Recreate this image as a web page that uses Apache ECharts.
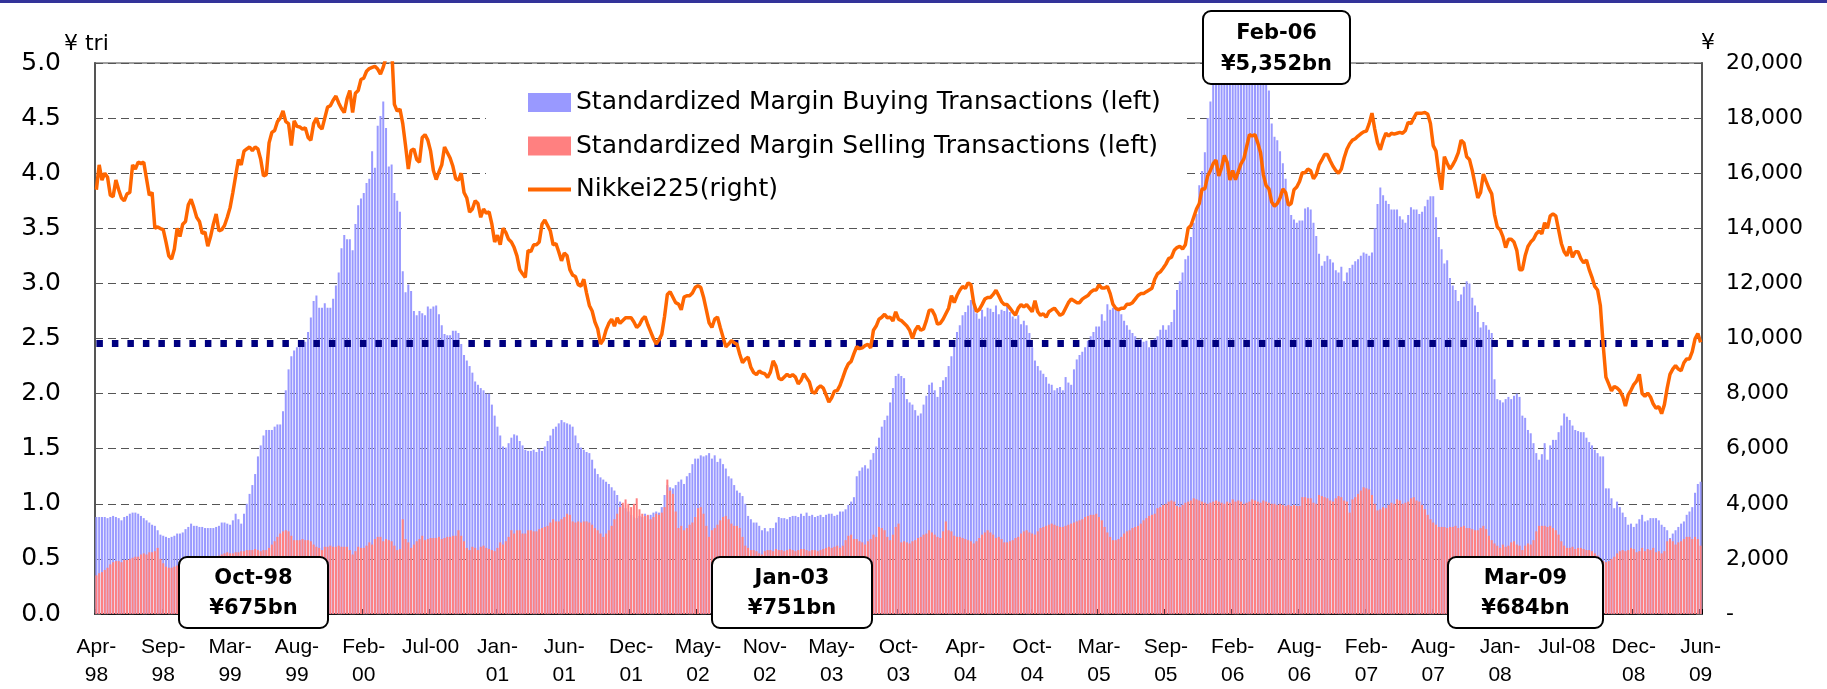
<!DOCTYPE html>
<html lang="en">

<head>
    <meta charset="UTF-8">
    <title>Margin Transactions and Nikkei225</title>
    <script src="https://cdn.jsdelivr.net/npm/echarts@6/dist/echarts.min.js"></script>
    <style>
        html, body { margin: 0; padding: 0; background: #fff; }
    </style>
</head>

<body>
    <div id="main" style="width: 1827px; height: 689px;"></div>
    <script>
        // weekly data, Apr-98 .. Jun-09 (one row = 24 weeks = one tick interval)
        var tickLabels = ['Apr-\n98', 'Sep-\n98', 'Mar-\n99', 'Aug-\n99', 'Feb-\n00', 'Jul-00', 'Jan-\n01', 'Jun-\n01',
            'Dec-\n01', 'May-\n02', 'Nov-\n02', 'May-\n03', 'Oct-\n03', 'Apr-\n04', 'Oct-\n04', 'Mar-\n05', 'Sep-\n05',
            'Feb-\n06', 'Aug-\n06', 'Feb-\n07', 'Aug-\n07', 'Jan-\n08', 'Jul-08', 'Dec-\n08', 'Jun-\n09'];
        var weeksPerTick = 24;

        // standardized margin buying, ¥ tri
        var buying = [
            0.88, 0.88, 0.88, 0.88, 0.87, 0.88, 0.89, 0.88, 0.87, 0.85, 0.88, 0.89, 0.91, 0.92, 0.92, 0.91, 0.89, 0.87, 0.85, 0.83, 0.81, 0.80, 0.76, 0.72,
            0.71, 0.70, 0.69, 0.70, 0.71, 0.73, 0.73, 0.74, 0.77, 0.79, 0.82, 0.80, 0.80, 0.79, 0.79, 0.78, 0.78, 0.78, 0.78, 0.79, 0.80, 0.83, 0.83, 0.82,
            0.81, 0.85, 0.91, 0.86, 0.82, 0.91, 1.00, 1.09, 1.17, 1.27, 1.43, 1.53, 1.62, 1.67, 1.67, 1.67, 1.70, 1.72, 1.72, 1.84, 2.03, 2.22, 2.34, 2.39,
            2.42, 2.44, 2.45, 2.47, 2.56, 2.69, 2.84, 2.89, 2.78, 2.78, 2.82, 2.78, 2.78, 2.86, 2.98, 3.10, 3.32, 3.44, 3.40, 3.40, 3.30, 3.54, 3.71, 3.77,
            3.82, 3.91, 3.95, 4.20, 4.05, 4.43, 4.52, 4.65, 4.41, 4.06, 4.08, 3.82, 3.75, 3.65, 3.11, 2.92, 2.99, 2.93, 2.75, 2.71, 2.75, 2.73, 2.71, 2.79,
            2.77, 2.79, 2.80, 2.72, 2.62, 2.54, 2.53, 2.53, 2.57, 2.57, 2.55, 2.45, 2.35, 2.30, 2.25, 2.19, 2.11, 2.08, 2.05, 2.03, 2.00, 2.00, 1.90, 1.80,
            1.70, 1.62, 1.52, 1.51, 1.55, 1.60, 1.63, 1.62, 1.57, 1.53, 1.49, 1.48, 1.48, 1.49, 1.47, 1.50, 1.48, 1.52, 1.57, 1.62, 1.68, 1.70, 1.73, 1.76,
            1.74, 1.73, 1.72, 1.70, 1.62, 1.55, 1.51, 1.49, 1.47, 1.46, 1.40, 1.32, 1.27, 1.24, 1.22, 1.20, 1.18, 1.15, 1.12, 1.08, 1.02, 0.99, 0.96, 0.93,
            0.90, 0.88, 0.87, 0.89, 0.88, 0.91, 0.89, 0.90, 0.92, 0.93, 0.92, 0.97, 1.08, 1.17, 1.15, 1.14, 1.17, 1.20, 1.22, 1.18, 1.25, 1.28, 1.36, 1.41,
            1.41, 1.44, 1.43, 1.44, 1.46, 1.41, 1.44, 1.38, 1.41, 1.36, 1.32, 1.25, 1.23, 1.17, 1.12, 1.10, 1.07, 1.00, 0.89, 0.86, 0.83, 0.83, 0.80, 0.76,
            0.78, 0.75, 0.78, 0.78, 0.83, 0.88, 0.87, 0.87, 0.86, 0.88, 0.89, 0.89, 0.88, 0.91, 0.89, 0.92, 0.89, 0.90, 0.88, 0.89, 0.90, 0.88, 0.90, 0.91,
            0.91, 0.89, 0.90, 0.93, 0.93, 0.95, 0.99, 1.02, 1.06, 1.25, 1.30, 1.33, 1.35, 1.32, 1.40, 1.46, 1.52, 1.60, 1.70, 1.76, 1.80, 1.92, 2.05, 2.16,
            2.18, 2.16, 2.14, 1.95, 1.92, 1.90, 1.85, 1.80, 1.82, 1.90, 1.98, 2.08, 2.10, 2.03, 1.97, 2.06, 2.12, 2.15, 2.25, 2.34, 2.45, 2.56, 2.62, 2.71,
            2.74, 2.80, 2.85, 2.82, 2.73, 2.68, 2.76, 2.70, 2.78, 2.77, 2.74, 2.80, 2.72, 2.76, 2.75, 2.80, 2.74, 2.70, 2.68, 2.71, 2.63, 2.66, 2.62, 2.55,
            2.42, 2.30, 2.25, 2.21, 2.18, 2.15, 2.09, 2.08, 2.03, 2.05, 2.06, 2.03, 2.15, 2.10, 2.08, 2.22, 2.31, 2.35, 2.38, 2.42, 2.48, 2.52, 2.56, 2.61,
            2.61, 2.72, 2.66, 2.81, 2.76, 2.78, 2.77, 2.75, 2.72, 2.66, 2.62, 2.58, 2.55, 2.52, 2.49, 2.50, 2.47, 2.48, 2.42, 2.47, 2.50, 2.52, 2.58, 2.62,
            2.58, 2.62, 2.65, 2.76, 2.94, 3.02, 3.10, 3.22, 3.25, 3.42, 3.55, 3.63, 3.89, 4.02, 4.19, 4.50, 4.65, 4.85, 5.05, 5.12, 5.08, 5.20, 5.28, 5.35,
            5.30, 5.25, 5.18, 5.10, 5.15, 5.05, 5.12, 5.02, 4.95, 5.05, 5.00, 4.92, 4.85, 4.75, 4.45, 4.33, 4.30, 4.20, 4.09, 3.95, 3.72, 3.62, 3.58, 3.55,
            3.57, 3.57, 3.68, 3.69, 3.67, 3.55, 3.43, 3.27, 3.16, 3.20, 3.25, 3.22, 3.19, 3.12, 3.10, 3.15, 3.02, 3.10, 3.14, 3.17, 3.20, 3.22, 3.25, 3.28,
            3.27, 3.25, 3.28, 3.50, 3.72, 3.87, 3.80, 3.75, 3.72, 3.67, 3.67, 3.67, 3.61, 3.58, 3.55, 3.62, 3.69, 3.67, 3.67, 3.63, 3.65, 3.70, 3.76, 3.79,
            3.79, 3.60, 3.42, 3.31, 3.18, 3.21, 3.05, 2.98, 2.94, 2.84, 2.90, 2.97, 3.02, 3.00, 2.87, 2.80, 2.74, 2.60, 2.65, 2.62, 2.58, 2.55, 2.13, 1.95,
            1.94, 1.92, 1.95, 1.97, 1.95, 1.98, 2.00, 1.97, 1.80, 1.78, 1.67, 1.64, 1.55, 1.46, 1.40, 1.45, 1.55, 1.40, 1.53, 1.58, 1.58, 1.65, 1.71, 1.82,
            1.79, 1.76, 1.71, 1.67, 1.66, 1.65, 1.65, 1.60, 1.56, 1.53, 1.49, 1.46, 1.43, 1.43, 1.14, 1.14, 1.05, 0.96, 1.02, 0.97, 0.92, 0.88, 0.81, 0.82,
            0.79, 0.82, 0.86, 0.90, 0.84, 0.85, 0.87, 0.87, 0.87, 0.85, 0.81, 0.79, 0.76, 0.69, 0.73, 0.76, 0.79, 0.82, 0.84, 0.90, 0.93, 0.97, 1.10, 1.18,
            1.20
        ];

        // standardized margin selling, ¥ tri
        var selling = [
            0.35, 0.37, 0.38, 0.40, 0.42, 0.45, 0.47, 0.48, 0.48, 0.47, 0.49, 0.49, 0.50, 0.51, 0.52, 0.52, 0.54, 0.55, 0.54, 0.56, 0.56, 0.57, 0.60, 0.50,
            0.46, 0.43, 0.42, 0.42, 0.43, 0.44, 0.45, 0.46, 0.46, 0.47, 0.48, 0.48, 0.47, 0.48, 0.49, 0.50, 0.50, 0.51, 0.52, 0.52, 0.53, 0.54, 0.55, 0.56,
            0.55, 0.55, 0.56, 0.56, 0.57, 0.57, 0.58, 0.58, 0.58, 0.59, 0.58, 0.57, 0.58, 0.58, 0.60, 0.63, 0.66, 0.70, 0.73, 0.75, 0.76, 0.75, 0.71, 0.67,
            0.67, 0.67, 0.68, 0.67, 0.67, 0.66, 0.63, 0.61, 0.60, 0.58, 0.61, 0.61, 0.62, 0.61, 0.61, 0.62, 0.61, 0.61, 0.61, 0.58, 0.54, 0.57, 0.61, 0.60,
            0.60, 0.62, 0.65, 0.63, 0.68, 0.70, 0.70, 0.66, 0.68, 0.67, 0.66, 0.62, 0.58, 0.59, 0.86, 0.68, 0.65, 0.60, 0.63, 0.66, 0.68, 0.71, 0.67, 0.68,
            0.69, 0.69, 0.69, 0.70, 0.68, 0.69, 0.70, 0.70, 0.71, 0.71, 0.76, 0.71, 0.66, 0.60, 0.58, 0.61, 0.60, 0.58, 0.61, 0.62, 0.60, 0.59, 0.58, 0.57,
            0.60, 0.65, 0.63, 0.66, 0.70, 0.76, 0.73, 0.76, 0.76, 0.73, 0.73, 0.76, 0.76, 0.75, 0.75, 0.77, 0.78, 0.79, 0.80, 0.83, 0.86, 0.84, 0.84, 0.86,
            0.88, 0.91, 0.90, 0.84, 0.83, 0.84, 0.83, 0.84, 0.84, 0.83, 0.81, 0.78, 0.76, 0.73, 0.70, 0.73, 0.76, 0.80, 0.86, 0.91, 0.97, 1.01, 1.04, 1.00,
            0.97, 1.00, 1.05, 0.95, 0.91, 0.89, 0.90, 0.86, 0.88, 0.91, 0.90, 0.92, 0.97, 1.22, 1.12, 1.09, 0.93, 0.78, 0.80, 0.76, 0.78, 0.81, 0.83, 0.88,
            0.96, 0.97, 0.91, 0.80, 0.70, 0.76, 0.78, 0.81, 0.85, 0.88, 0.89, 0.86, 0.82, 0.80, 0.80, 0.78, 0.70, 0.62, 0.60, 0.58, 0.58, 0.57, 0.55, 0.54,
            0.57, 0.58, 0.58, 0.57, 0.59, 0.58, 0.58, 0.57, 0.58, 0.59, 0.58, 0.57, 0.58, 0.59, 0.59, 0.58, 0.57, 0.58, 0.58, 0.57, 0.58, 0.59, 0.60, 0.61,
            0.60, 0.61, 0.62, 0.60, 0.62, 0.67, 0.71, 0.72, 0.68, 0.68, 0.66, 0.65, 0.63, 0.66, 0.68, 0.72, 0.70, 0.79, 0.78, 0.76, 0.70, 0.67, 0.72, 0.79,
            0.82, 0.65, 0.66, 0.65, 0.64, 0.66, 0.67, 0.69, 0.70, 0.72, 0.73, 0.76, 0.74, 0.72, 0.70, 0.69, 0.75, 0.84, 0.76, 0.75, 0.71, 0.70, 0.70, 0.69,
            0.68, 0.67, 0.66, 0.64, 0.66, 0.69, 0.72, 0.74, 0.76, 0.74, 0.72, 0.69, 0.70, 0.68, 0.65, 0.65, 0.66, 0.67, 0.69, 0.70, 0.73, 0.75, 0.76, 0.74,
            0.73, 0.72, 0.75, 0.78, 0.79, 0.80, 0.81, 0.82, 0.81, 0.80, 0.79, 0.79, 0.80, 0.81, 0.82, 0.83, 0.84, 0.85, 0.86, 0.88, 0.89, 0.90, 0.90, 0.91,
            0.88, 0.85, 0.79, 0.74, 0.70, 0.67, 0.67, 0.68, 0.70, 0.73, 0.75, 0.76, 0.78, 0.79, 0.80, 0.82, 0.85, 0.87, 0.89, 0.90, 0.91, 0.96, 0.97, 0.99,
            1.00, 1.02, 1.03, 1.02, 0.98, 0.97, 0.99, 1.01, 1.02, 1.03, 1.05, 1.04, 1.03, 1.02, 1.01, 1.00, 1.01, 1.02, 1.03, 1.02, 1.01, 1.00, 1.02, 1.01,
            1.04, 1.02, 1.03, 1.02, 1.00, 1.01, 1.02, 1.04, 1.03, 1.02, 1.01, 1.03, 1.02, 1.01, 1.00, 1.00, 0.99, 1.00, 0.99, 0.98, 0.99, 0.98, 0.99, 0.98,
            0.98, 1.06, 1.06, 1.05, 1.05, 1.01, 1.00, 1.08, 1.07, 1.06, 1.05, 1.03, 1.02, 1.05, 1.07, 1.06, 1.03, 1.02, 0.92, 1.04, 1.06, 1.09, 1.12, 1.15,
            1.14, 1.13, 1.08, 1.00, 0.94, 0.95, 0.97, 0.96, 0.99, 1.01, 1.00, 1.04, 1.03, 1.00, 1.01, 1.02, 1.05, 1.06, 1.03, 1.02, 0.99, 0.95, 0.90, 0.86,
            0.83, 0.81, 0.79, 0.79, 0.79, 0.78, 0.79, 0.79, 0.80, 0.78, 0.79, 0.80, 0.78, 0.78, 0.77, 0.76, 0.76, 0.78, 0.80, 0.77, 0.71, 0.67, 0.64, 0.62,
            0.60, 0.63, 0.61, 0.62, 0.65, 0.66, 0.63, 0.62, 0.58, 0.62, 0.64, 0.63, 0.67, 0.75, 0.80, 0.80, 0.80, 0.79, 0.80, 0.78, 0.76, 0.72, 0.66, 0.62,
            0.60, 0.60, 0.61, 0.59, 0.60, 0.60, 0.59, 0.58, 0.58, 0.57, 0.55, 0.53, 0.49, 0.48, 0.47, 0.48, 0.50, 0.52, 0.55, 0.57, 0.58, 0.57, 0.58, 0.60,
            0.59, 0.56, 0.57, 0.60, 0.57, 0.59, 0.58, 0.60, 0.56, 0.57, 0.55, 0.57, 0.66, 0.68, 0.66, 0.63, 0.65, 0.66, 0.68, 0.70, 0.70, 0.68, 0.70, 0.68,
            0.62
        ];

        // Nikkei225, yen
        var nikkei = [
            15400, 16300, 15750, 16000, 15850, 15200, 15150, 15750, 15400, 15100, 15000, 15250, 15300, 16300, 16150, 16400, 16350, 16400, 15800, 15200, 15300, 14000, 14050, 13990,
            13950, 13500, 13000, 12880, 13250, 14000, 13700, 14150, 14250, 14850, 15050, 14750, 14400, 14250, 13820, 13860, 13350, 13700, 14150, 14520, 13900, 13950, 14100, 14400,
            14750, 15300, 15900, 16500, 16300, 16800, 16880, 16950, 16820, 16950, 16880, 16500, 15900, 15950, 17100, 17480, 17550, 17870, 18000, 18260, 17870, 17800, 17000, 17900,
            17700, 17680, 17600, 17650, 17300, 17200, 17800, 18000, 17700, 17600, 18000, 18400, 18450, 18650, 18800, 18550, 18350, 18200, 18700, 19000, 18200, 18900, 19000, 19400,
            19450, 19700, 19800, 19840, 19880, 19780, 19600, 19850, 20200, 20400, 20600, 18500, 18250, 18330, 17800, 17000, 16150, 16820, 16880, 16500, 16400, 17300, 17400, 17200,
            16800, 16100, 15770, 16050, 16300, 16950, 16750, 16550, 16250, 15800, 15750, 16000, 15300, 15100, 14590, 14700, 15000, 14900, 14400, 14700, 14550, 14600, 14150, 13500,
            13750, 13400, 14000, 13850, 13600, 13500, 13300, 13000, 12500, 12350, 12220, 13200, 13150, 13400, 13400, 13500, 14150, 14300, 14100, 13900, 13400, 13450, 13150, 12820,
            13100, 13000, 12500, 12300, 12250, 11950, 11900, 12150, 11650, 11200, 11000, 10600, 10350, 9800, 9950, 10310, 10550, 10700, 10450, 10750, 10550, 10650, 10750, 10750,
            10750, 10600, 10400, 10500, 10700, 10800, 10500, 10250, 10000, 9800, 9950, 10150, 10800, 11600, 11700, 11500, 11300, 11250, 11040, 11500, 11550, 11550, 11650, 11850,
            11920, 11850, 11500, 11040, 10570, 10400, 10700, 10780, 10400, 10050, 9700, 9800, 9920, 9850, 9790, 9430, 9120, 9250, 9320, 8950, 8760, 8690, 8820, 8750,
            8720, 8590, 8780, 9190, 8990, 8560, 8500, 8600, 8700, 8620, 8690, 8600, 8350, 8480, 8720, 8570, 8420, 8060, 8020, 8200, 8280, 8200, 7950, 7690,
            7850, 8090, 8110, 8300, 8580, 8870, 9080, 9170, 9450, 9700, 9630, 9660, 9740, 9790, 9660, 10300, 10450, 10700, 10770, 10880, 10750, 10770, 10640, 10970,
            10700, 10650, 10550, 10450, 10300, 10000, 10300, 10450, 10300, 10350, 10650, 11020, 11040, 10850, 10520, 10550, 10700, 10900, 11100, 11560, 11300, 11560, 11750, 11890,
            11820, 12020, 11950, 11300, 10980, 11050, 11230, 11430, 11490, 11490, 11600, 11750, 11550, 11340, 11230, 11230, 11100, 10970, 10850, 11100, 11230, 11150, 11230, 11100,
            10970, 11370, 10970, 10840, 10900, 10770, 10970, 11040, 11100, 10970, 10840, 10900, 11100, 11300, 11430, 11370, 11300, 11300, 11430, 11500, 11560, 11680, 11760, 11760,
            11950, 11830, 11830, 11890, 11630, 11240, 11100, 11040, 11100, 11100, 11240, 11240, 11300, 11430, 11560, 11630, 11630, 11700, 11760, 11820, 12150, 12350, 12420, 12550,
            12700, 12900, 12950, 13200, 13300, 13350, 13250, 13400, 14000, 14100, 14400, 14700, 14900, 15430, 15430, 15900, 16100, 16350, 16480, 15900, 16200, 16650, 16400, 15750,
            16100, 15760, 16060, 16350, 16520, 16960, 17400, 17350, 17400, 17100, 16740, 15950, 15550, 15430, 14950, 14800, 14900, 15100, 15430, 15300, 14840, 14900, 15400, 15500,
            15700, 16020, 16020, 16150, 16090, 15800, 15950, 16300, 16480, 16680, 16680, 16450, 16250, 16100, 16000, 16150, 16550, 16870, 17070, 17200, 17250, 17350, 17430, 17500,
            17530, 17800, 18180, 17600, 17100, 16850, 17200, 17450, 17350, 17450, 17420, 17450, 17480, 17450, 17550, 17850, 17800, 18000, 18180, 18180, 18180, 18200, 18150, 17800,
            17000, 16800, 16000, 15400, 16600, 16360, 16150, 16300, 16490, 16750, 17200, 17100, 16600, 16500, 16100, 15600, 15100, 15300, 15970, 15700, 15450, 15250, 14500, 14050,
            13950, 13700, 13300, 13600, 13600, 13500, 13200, 12500, 12500, 13000, 13340, 13500, 13600, 13800, 13900, 13800, 14200, 14000, 14450, 14520, 14450, 13950, 13450, 13150,
            13000, 13340, 12950, 13150, 13150, 12900, 12750, 12850, 12500, 12220, 11890, 11760, 11200, 9790, 8600, 8350, 8100, 8260, 8200, 8100, 7900, 7550, 7950, 8120,
            8330, 8450, 8700, 8000, 7900, 8020, 7880, 7620, 7470, 7530, 7270, 7600, 8200, 8700, 8890, 9020, 8890, 8830, 9120, 9260, 9260, 9520, 9990, 10180,
            9860
        ];

        // long-run average of margin buying (dotted navy line), ends at this week index
        var avgBuying = 2.46;
        var avgEndWeek = 571;

        var callouts = [
            { title: 'Oct-98', text: '¥675bn', left: 178, top: 556, width: 149, height: 71 },
            { title: 'Jan-03', text: '¥751bn', left: 711, top: 556, width: 160, height: 71 },
            { title: 'Feb-06', text: '¥5,352bn', left: 1202, top: 10, width: 147, height: 73 },
            { title: 'Mar-09', text: '¥684bn', left: 1447, top: 556, width: 155, height: 71 }
        ];

        var weeks = buying.map(function (v, i) { return String(i); });

        var myChart = echarts.init(document.getElementById('main'));

        var graphics = [
            { type: 'rect', left: 0, top: 0, shape: { width: 1827, height: 3 }, style: { fill: '#333399' }, z: 100 },
            { type: 'text', left: 64, top: 33, style: { text: '¥ tri', font: '22px "DejaVu Sans"', fill: '#000' }, z: 100 },
            { type: 'text', left: 1701, top: 32, style: { text: '¥', font: '22px "DejaVu Sans"', fill: '#000' }, z: 100 }
        ];
        callouts.forEach(function (c) {
            graphics.push({
                type: 'group', left: c.left, top: c.top, z: 100,
                children: [
                    { type: 'rect', shape: { x: 0, y: 0, width: c.width, height: c.height, r: 8 }, style: { fill: '#fff', stroke: '#000', lineWidth: 2 }, z: 100 },
                    { type: 'text', style: { text: c.title, x: c.width / 2, y: c.height * 0.31, align: 'center', verticalAlign: 'middle', font: 'bold 21px "DejaVu Sans"', fill: '#000' }, z: 101 },
                    { type: 'text', style: { text: c.text, x: c.width / 2, y: c.height * 0.73, align: 'center', verticalAlign: 'middle', font: 'bold 21px "DejaVu Sans"', fill: '#000' }, z: 101 }
                ]
            });
        });

        var option = {
            animation: false,
            backgroundColor: '#fff',
            grid: { left: 95, right: 125, top: 63, bottom: 72, show: true, borderColor: '#808080', borderWidth: 1.5, backgroundColor: 'transparent' },
            legend: {
                orient: 'vertical',
                left: 486,
                top: 78,
                padding: [12, 25, 16, 40],
                backgroundColor: '#fff',
                itemWidth: 43,
                itemHeight: 19,
                itemGap: 18.5,
                textStyle: { fontFamily: 'DejaVu Sans', fontSize: 25, color: '#000' },
                data: [
                    { name: 'Standardized Margin Buying Transactions (left)', icon: 'rect' },
                    { name: 'Standardized Margin Selling Transactions (left)', icon: 'rect' },
                    { name: 'Nikkei225(right)', itemStyle: { opacity: 0 }, lineStyle: { width: 4, color: '#FF6600' } }
                ]
            },
            xAxis: {
                type: 'category',
                data: weeks,
                boundaryGap: true,
                axisLine: { lineStyle: { color: '#000', width: 1.5 } },
                axisTick: {
                    show: true, inside: true, length: 5,
                    interval: function (index) { return index % weeksPerTick === 0; },
                    lineStyle: { color: '#000' }
                },
                axisLabel: {
                    interval: function (index) { return index % weeksPerTick === 0; },
                    formatter: function (value) { return tickLabels[Number(value) / weeksPerTick]; },
                    margin: 19,
                    fontFamily: 'Liberation Sans',
                    fontSize: 21,
                    lineHeight: 28,
                    color: '#000'
                },
                splitLine: { show: false }
            },
            yAxis: [
                {
                    type: 'value', min: 0, max: 5, interval: 0.5, position: 'left',
                    axisLine: { show: true, lineStyle: { color: '#555', width: 2 } },
                    axisTick: { show: true, inside: true, length: 6, lineStyle: { color: '#555' } },
                    axisLabel: {
                        formatter: function (v) { return v.toFixed(1); },
                        margin: 34, fontFamily: 'DejaVu Sans', fontSize: 25, color: '#000'
                    },
                    splitLine: { show: true, lineStyle: { color: '#555', width: 1, type: [8, 5] } }
                },
                {
                    type: 'value', min: 0, max: 20000, interval: 2000, position: 'right',
                    axisLine: { show: true, lineStyle: { color: '#555', width: 2 } },
                    axisTick: { show: true, inside: true, length: 6, lineStyle: { color: '#555' } },
                    axisLabel: {
                        formatter: function (v) { return v === 0 ? '-' : v.toLocaleString('en-US'); },
                        margin: 24, fontFamily: 'DejaVu Sans', fontSize: 22, color: '#000'
                    },
                    splitLine: { show: false }
                }
            ],
            series: [
                {
                    name: 'Standardized Margin Buying Transactions (left)',
                    type: 'bar',
                    data: buying,
                    barWidth: '72%',
                    barGap: '-100%',
                    itemStyle: { color: '#9999FF' },
                    clip: true,
                    markLine: {
                        silent: true,
                        symbol: ['none', 'none'],
                        label: { show: false },
                        lineStyle: { color: '#000080', width: 7, type: [6.5, 9] },
                        data: [[{ coord: [0, avgBuying] }, { coord: [avgEndWeek, avgBuying] }]]
                    }
                },
                {
                    name: 'Standardized Margin Selling Transactions (left)',
                    type: 'bar',
                    data: selling,
                    barWidth: '72%',
                    barGap: '-100%',
                    itemStyle: { color: '#FF8080' },
                    clip: true
                },
                {
                    name: 'Nikkei225(right)',
                    type: 'line',
                    yAxisIndex: 1,
                    data: nikkei,
                    symbol: 'none',
                    clip: true,
                    z: 10,
                    itemStyle: { color: '#FF6600' },
                    lineStyle: { color: '#FF6600', width: 3.5 }
                }
            ],
            graphic: graphics
        };

        myChart.setOption(option);
    </script>
</body>

</html>
